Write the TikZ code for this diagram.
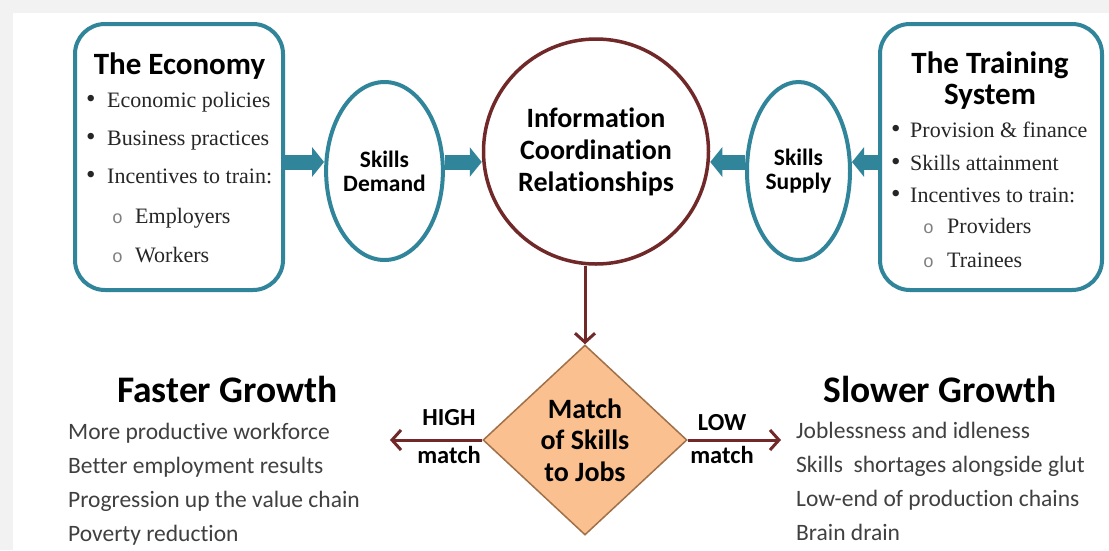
\documentclass[tikz,border=0pt]{standalone}
\usepackage{fontspec}
\setmainfont{Carlito}[Ligatures=NoCommon]
\newfontfamily\tnr{Liberation Serif}
\newfontfamily\cour{Liberation Mono}
\usetikzlibrary{shapes.geometric,arrows.meta}

\definecolor{skillteal}{RGB}{49,133,155}
\definecolor{infored}{RGB}{112,40,40}
\definecolor{matchfill}{RGB}{250,192,144}
\definecolor{matchline}{RGB}{160,112,72}
\definecolor{bodygray}{RGB}{64,64,64}

\newcommand{\dotbul}[1]{\makebox[#1][l]{\fontsize{27}{24}\selectfont\textbullet}}
\newcommand{\ringbul}[1]{\makebox[#1][l]{\color{gray}\cour\fontsize{18}{17}\selectfont o}}

\begin{document}
\begin{tikzpicture}[x=1pt,y=-1pt,
  sidebox/.style={draw=skillteal,line width=4pt,rounded corners=30pt,minimum height=266pt},
  skill/.style={ellipse,draw=skillteal,line width=4pt,minimum height=178pt,inner sep=0pt,
    align=center,font=\fontsize{23.5}{24}\selectfont\bfseries},
  boxtitle/.style={anchor=base,font=\fontsize{31}{31}\selectfont\bfseries},
  item/.style={anchor=base west,inner sep=0pt,text=black!85,font=\fontsize{22}{24}\selectfont\tnr},
  fat/.style={draw=skillteal,line width=15pt,-{Triangle[length=12pt,width=29pt]}},
  thin/.style={draw=infored,line width=3pt,-{Straight Barb[length=9pt,width=20pt]}},
  lbl/.style={anchor=base,font=\fontsize{24.5}{25}\selectfont\bfseries},
  growth/.style={anchor=base,font=\fontsize{37.5}{38}\selectfont\bfseries},
  result/.style={anchor=base west,inner sep=0pt,text=bodygray,font=\fontsize{23.5}{25}\selectfont}]

\useasboundingbox (0,0) rectangle (1109,550);
\fill[black!5] (0,0) rectangle (1109,550);
\fill[white] (13,13) rectangle (1109,550);

% the two sides feeding the skills market
\node[sidebox,minimum width=208pt] (econ) at (179,157) {};
\node[sidebox,minimum width=222pt] (train) at (991,157) {};

\node[boxtitle] (econtitle) at (179.5,74) {The Economy};
\node[item] (eco1) at (86,107) {\dotbul{21pt}Economic policies};
\node[item] (eco2) at (86,145) {\dotbul{21pt}Business practices};
\node[item] (eco3) at (86,183) {\dotbul{21pt}Incentives to train:};
\node[item] (eco4) at (112,223) {\ringbul{23pt}Employers};
\node[item] (eco5) at (112,262) {\ringbul{23pt}Workers};

\node[boxtitle] (traintitle1) at (990,73) {The Training};
\node[boxtitle] (traintitle2) at (990,104) {System};
\node[item] (trn1) at (891,137) {\dotbul{19pt}Provision \& finance};
\node[item] (trn2) at (891,170) {\dotbul{19pt}Skills attainment};
\node[item] (trn3) at (891,202) {\dotbul{19pt}Incentives to train:};
\node[item] (trn4) at (923,233) {\ringbul{24pt}Providers};
\node[item] (trn5) at (923,267) {\ringbul{24pt}Trainees};

\node[skill,minimum width=111pt] (demand) at (384.5,171) {Skills\\Demand};
\node[skill,minimum width=103pt] (supply) at (798.5,171) {Skills\\Supply};

\node[circle,draw=infored,line width=3.5pt,minimum size=225pt,inner sep=0pt,align=center,
  font=\fontsize{28}{32}\selectfont\bfseries] (info) at (596,151.5)
  {Information\\Coordination\\Relationships};

\node[diamond,draw=matchline,line width=1.5pt,fill=matchfill,aspect=1.07,inner sep=0pt,
  minimum width=204pt,minimum height=190pt,align=center,
  font=\fontsize{28}{31.5}\selectfont\bfseries] (match) at (585,440)
  {Match\\of Skills\\to Jobs};

\coordinate (armrow) at (0,162);
\draw[fat] (econ.east |- armrow) -- (demand.west |- armrow);
\draw[fat] (demand.east |- armrow) -- (info.west |- armrow);
\draw[fat] (train.west |- armrow) -- (supply.east |- armrow);
\draw[fat] (supply.west |- armrow) -- (info.east |- armrow);

\draw[thin] (info.south -| match.north) -- (match.north);

% high and low match
\coordinate (hightip) at (390,440);
\coordinate (lowtip) at (781,440);
\draw[thin] (match.west) -- (hightip);
\draw[thin] (match.east) -- (lowtip);
\node[lbl] (highlbl) at (449,425) {HIGH};
\node[lbl] (highm) at (449,463) {match};
\node[lbl] (lowlbl) at (722,430) {LOW};
\node[lbl] (lowm) at (722,463) {match};

\node[growth] (faster) at (227.5,402) {Faster Growth};
\node[result] (f1) at (68,439) {More productive workforce};
\node[result] (f2) at (68,473) {Better employment results};
\node[result] (f3) at (68,507) {Progression up the value chain};
\node[result] (f4) at (68,541) {Poverty reduction};

\node[growth] (slower) at (940,402) {Slower Growth};
\node[result] (s1) at (796,438) {Joblessness and idleness};
\node[result] (s2) at (796,472) {Skills\ \ shortages alongside glut};
\node[result] (s3) at (796,506) {Low-end of production chains};
\node[result] (s4) at (796,540) {Brain drain};
\end{tikzpicture}
\end{document}
